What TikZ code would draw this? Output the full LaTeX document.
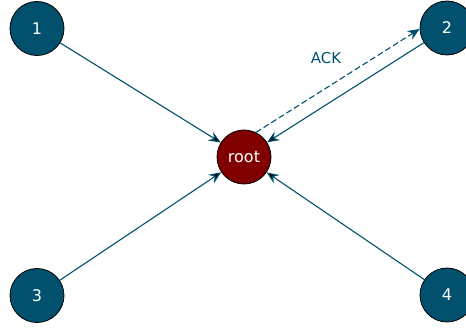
\documentclass[tikz,border=0pt]{standalone}
\usepackage{fontspec}
\setmainfont{DejaVu Sans}
\usetikzlibrary{arrows.meta}
\definecolor{teal}{RGB}{0,80,110}
\definecolor{rootred}{RGB}{128,0,0}
\begin{document}
\begin{tikzpicture}[x=1pt, y=1pt,
  peer/.style={shape=circle, draw=black, line width=0.8pt, fill=teal, text=white, minimum size=54pt, inner sep=0pt, font=\fontsize{16}{19}\selectfont},
  msg/.style={-{Stealth[length=12pt, width=10pt, inset=4pt]}, draw=teal, line width=1.1pt}]
\useasboundingbox (0,0) rectangle (466,327);
\node[peer, fill=rootred] (root) at (244,170) {root};
\node[peer] (1) at (37,298.5) {1};
\node[peer] (2) at (447,299) {2};
\node[peer] (3) at (37,31.5) {3};
\node[peer] (4) at (447,32) {4};
\path [msg] (1) edge (root);
\path [msg] (2) edge (root);
\path [msg] (3) edge (root);
\path [msg] (4) edge (root);
\draw [msg, dash pattern=on 6pt off 3pt] (root.64) -- (2.182);
\node[text=teal, font=\fontsize{15}{18}\selectfont] (ack) at (326,269) {ACK};
\end{tikzpicture}
\end{document}
